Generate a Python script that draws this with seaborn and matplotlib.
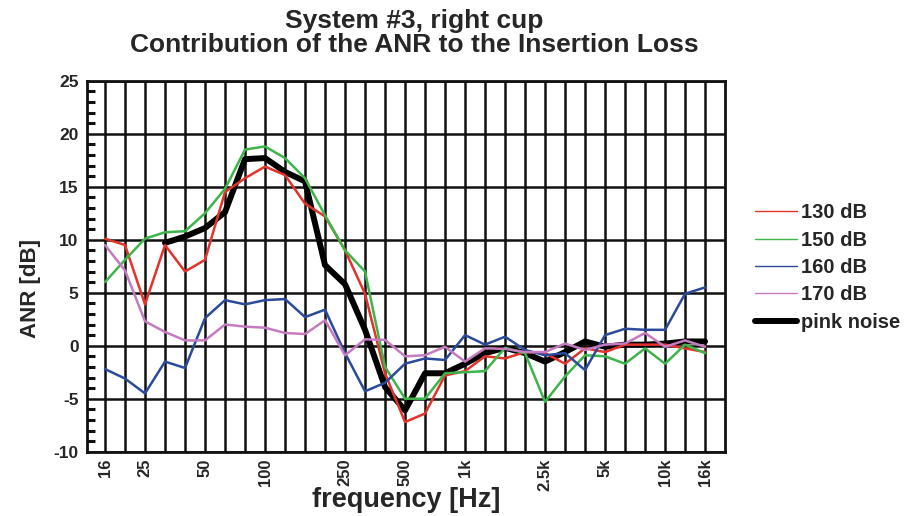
import numpy as np
import pandas as pd
import matplotlib
matplotlib.use("Agg")
import matplotlib.pyplot as plt
import seaborn as sns
from matplotlib.ticker import MultipleLocator, FixedLocator

# third-octave bands (Hz)
bands = ["16", "20", "25", "31.5", "40", "50", "63", "80", "100", "125", "160",
         "200", "250", "315", "400", "500", "630", "800", "1k", "1.25k", "1.6k",
         "2k", "2.5k", "3.15k", "4k", "5k", "6.3k", "8k", "10k", "12.5k", "16k"]
shown_labels = ["16", "25", "50", "100", "250", "500", "1k", "2.5k", "5k", "10k", "16k"]

anr_130 = [10.1, 9.5, 3.9, 9.5, 7.0, 8.1, 14.5, 15.8, 16.9, 16.1, 13.4, 12.2, 9.0, 4.9,
           -2.6, -7.2, -6.4, -2.8, -2.4, -1.0, -1.2, -0.6, -0.7, -1.7, -0.25, -0.6,
           0.1, 0.1, 0.1, -0.25, -0.6]
anr_150 = [6.0, 8.1, 10.1, 10.7, 10.8, 12.5, 14.8, 18.5, 18.8, 17.7, 15.8, 12.3, 9.0, 7.0,
           -2.0, -5.0, -5.0, -2.6, -2.5, -2.4, -0.2, -0.7, -5.3, -2.9, -0.9, -1.0,
           -1.7, -0.25, -1.7, 0.1, -0.7]
anr_160 = [-2.2, -3.1, -4.5, -1.5, -2.1, 2.6, 4.3, 3.9, 4.3, 4.4, 2.7, 3.4, -0.7, -4.3,
           -3.5, -1.7, -1.2, -1.35, 1.0, 0.1, 0.85, -0.4, -0.9, -0.7, -2.3, 1.0,
           1.6, 1.5, 1.5, 4.9, 5.5]
anr_170 = [9.5, 7.1, 2.3, 1.3, 0.5, 0.5, 2.0, 1.8, 1.7, 1.2, 1.1, 2.4, -0.9, 0.6,
           0.55, -1.0, -0.9, -0.1, -1.5, -0.25, -0.3, -0.6, -0.6, 0.2, -0.4, 0.1,
           0.2, 1.2, -0.1, 0.5, -0.1]
anr_pink = [np.nan, np.nan, np.nan, 9.7, 10.3, 11.1, 12.6, 17.6, 17.7, 16.4, 15.5, 7.6,
            5.8, 1.5, -3.9, -6.1, -2.6, -2.6, -1.7, -0.7, -0.2, -0.7, -1.5, -0.6,
            0.4, -0.1, 0.1, 0.1, 0.2, 0.4, 0.4]

series_names = ["130 dB", "150 dB", "160 dB", "170 dB", "pink noise"]
series_values = [anr_130, anr_150, anr_160, anr_170, anr_pink]
colors = ["#e3332b", "#3db54a", "#2c4a9c", "#c47bbf", "#000000"]
widths = [1.8, 1.8, 1.8, 1.8, 4.3]
zorders = [4, 4, 4, 4, 3]

pos = np.arange(len(bands))
frames = []
for name, vals in zip(series_names, series_values):
    frames.append(pd.DataFrame({"pos": pos, "band": bands, "anr": vals, "series": name}))
df = pd.concat(frames, ignore_index=True)

sns.set_style("white")
plt.rcParams["font.family"] = ["Liberation Sans", "DejaVu Sans"]
plt.rcParams["font.weight"] = "bold"
plt.rcParams["axes.unicode_minus"] = False

fig = plt.figure(figsize=(9.11, 5.16), dpi=100)
ax = fig.add_axes([0.0955, 0.1246, 0.7004, 0.7190])

for name, c, w, z in zip(series_names, colors, widths, zorders):
    sub = df[df["series"] == name]
    sns.lineplot(data=sub, x="pos", y="anr", color=c, linewidth=w, ax=ax,
                 label=name, zorder=z, estimator=None, sort=False)

ax.set_xlim(-0.9, 31)
ax.set_ylim(-10, 25)

# grid
ax.xaxis.set_major_locator(FixedLocator(pos))
ax.set_xticklabels([b if b in shown_labels else "" for b in bands],
                   rotation=90, fontsize=12, fontweight="bold")
ax.yaxis.set_major_locator(MultipleLocator(5))
ax.yaxis.set_minor_locator(MultipleLocator(1))
ax.grid(True, which="major", color="#111111", linewidth=1.8, zorder=1)
ax.set_axisbelow(True)
for sp in ax.spines.values():
    sp.set_color("#111111")
    sp.set_linewidth(2)
ax.tick_params(axis="x", which="both", length=0, pad=5)
ax.tick_params(axis="y", which="major", length=0, pad=6, labelsize=12.5)
ax.tick_params(axis="y", which="minor", direction="in", length=6, width=2.2,
               color="#111111", left=True)
for lbl in ax.get_yticklabels():
    lbl.set_fontweight("bold")

ax.set_xlabel("frequency [Hz]", fontsize=19.5, fontweight="bold", labelpad=-3)
ax.set_ylabel("ANR [dB]", fontsize=16, fontweight="bold")
ax.yaxis.set_label_coords(-0.072, 0.44)

fig.suptitle("System #3, right cup\nContribution of the ANR to the Insertion Loss",
             x=0.455, y=0.983, fontsize=19, fontweight="bold", linespacing=1.0)

leg = ax.legend(loc="upper left", bbox_to_anchor=(0.82, 0.622),
                bbox_transform=fig.transFigure, frameon=False,
                prop={"size": 14.5, "weight": "bold"}, handlelength=2.1,
                handletextpad=0.2, labelspacing=0.42, borderaxespad=0)
for h, w in zip(leg.get_lines(), widths):
    h.set_linewidth(1.0 if w < 3 else 4.3)

fig.savefig("out.png", dpi=100)
